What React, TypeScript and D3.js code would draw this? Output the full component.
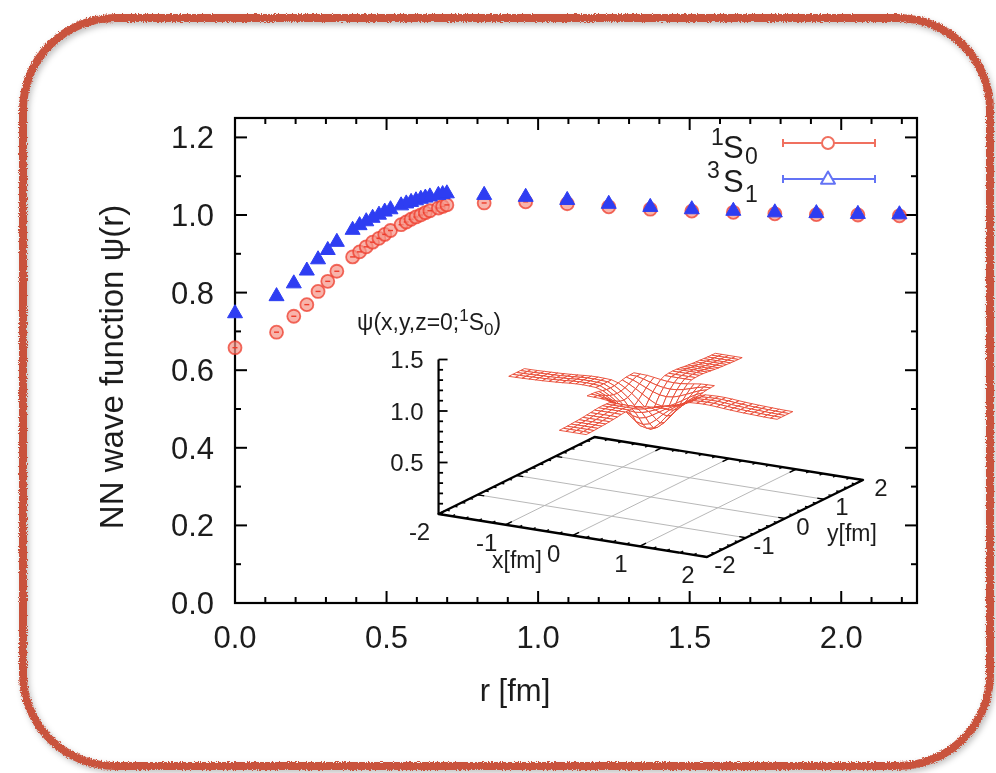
import React from 'react';
import * as d3 from 'd3';

// ---- data ----
const rValues = [0, 0.137, 0.194, 0.237, 0.274, 0.306, 0.336, 0.388, 0.411, 0.433, 0.454, 0.475, 0.494, 0.513, 0.548, 0.565, 0.581, 0.597, 0.613, 0.628, 0.643, 0.671, 0.685, 0.699, 0.822, 0.959, 1.096, 1.233, 1.37, 1.507, 1.644, 1.781, 1.918, 2.055, 2.192];
const psi1S0 = [0.658, 0.698, 0.739, 0.769, 0.803, 0.829, 0.855, 0.892, 0.905, 0.918, 0.93, 0.94, 0.95, 0.96, 0.975, 0.982, 0.989, 0.995, 1.0, 1.006, 1.011, 1.018, 1.022, 1.026, 1.031, 1.034, 1.029, 1.021, 1.015, 1.01, 1.007, 1.003, 1.001, 1.0, 0.998];
const psi3S1 = [0.748, 0.792, 0.825, 0.858, 0.887, 0.911, 0.932, 0.963, 0.975, 0.985, 0.994, 1.002, 1.01, 1.016, 1.026, 1.031, 1.035, 1.039, 1.043, 1.046, 1.049, 1.053, 1.055, 1.057, 1.053, 1.048, 1.04, 1.03, 1.022, 1.016, 1.012, 1.008, 1.006, 1.004, 1.003];
const xTicks = [0, 0.5, 1.0, 1.5, 2.0];
const yTicks = [0, 0.2, 0.4, 0.6, 0.8, 1.0, 1.2];
const insetZTicks = [0.5, 1.0, 1.5];
const insetXTicks = [-2, -1, 0, 1, 2];
const insetYTicks = [-2, -1, 0, 1, 2];

const FONT = '"Liberation Sans", Arial, Helvetica, sans-serif';
const RED = '#ee3b2b';
const BLUE = '#2e3ef2';

export default function App() {
  const W = 996, H = 773;
  const L = 235, R = 917, T = 118, B = 603;
  const x = d3.scaleLinear().domain([0, 2.25]).range([L, R]);
  const y = d3.scaleLinear().domain([0, 1.25]).range([B, T]);

  const xMinor = d3.range(0, 2.2501, 0.1);
  const yMinor = d3.range(0, 1.2501, 0.1);
  const isMajor = (v: number, arr: number[]) => arr.some(a => Math.abs(a - v) < 1e-6);

  // ---- inset projection ----
  const O = [650.75, 497];
  const ex = [67.1, 10.75];
  const ey = [39, -19.25];
  const ez = -103;
  const P = (px: number, py: number, pz: number) => [O[0] + px * ex[0] + py * ey[0], O[1] + px * ex[1] + py * ey[1] + pz * ez];
  const pstr = (pts: number[][]) => pts.map(p => p[0].toFixed(2) + ',' + p[1].toFixed(2)).join(' ');

  const surf = d3.scaleLinear().domain(rValues).range(psi1S0).clamp(true);
  const h = 0.1;
  const cells: { pts: number[][]; key: number }[] = [];
  for (let i = 0; i < 40; i++) {
    for (let j = 0; j < 40; j++) {
      const x0 = -2 + i * h, y0 = -2 + j * h;
      const cx = x0 + h / 2, cy = y0 + h / 2;
      const inside = Math.abs(cy) < 0.2 || Math.abs(cx) < 0.2 || (Math.abs(cx) < 0.6 && Math.abs(cy) < 0.6);
      if (!inside) continue;
      const z = (a: number, b: number) => surf(Math.sqrt(a * a + b * b));
      const corners = [[x0, y0], [x0 + h, y0], [x0 + h, y0 + h], [x0, y0 + h]];
      const pts = corners.map(c => P(c[0], c[1], z(c[0], c[1])));
      cells.push({ pts, key: 10.75 * cx - 19.25 * cy });
    }
  }
  cells.sort((a, b) => a.key - b.key);

  const floor = [P(-2, -2, 0), P(2, -2, 0), P(2, 2, 0), P(-2, 2, 0)];
  const edgeTicks: JSX.Element[] = [];
  const fine = d3.range(-2, 2.001, 0.2);
  fine.forEach((v, k) => {
    const major = Math.abs(v - Math.round(v)) < 1e-6;
    const lx = major ? 0.16 : 0.08;
    const ly = major ? 0.1 : 0.05;
    [[-2, 1], [2, -1]].forEach(([yy, dir], m) => {
      const a = P(v, yy, 0), b = P(v, yy + dir * lx, 0);
      edgeTicks.push(<line key={`tx${k}-${m}`} x1={a[0]} y1={a[1]} x2={b[0]} y2={b[1]} stroke="#000" strokeWidth={1.4} />);
    });
    [[2, -1], [-2, 1]].forEach(([xx, dir], m) => {
      const a = P(xx, v, 0), b = P(xx + dir * ly, v, 0);
      edgeTicks.push(<line key={`ty${k}-${m}`} x1={a[0]} y1={a[1]} x2={b[0]} y2={b[1]} stroke="#000" strokeWidth={1.4} />);
    });
  });

  const zAxisBase = P(-2, -2, 0);
  const zMinor = d3.range(0, 1.5001, 0.1);

  const tri = (cx: number, cy: number, s: number) => {
    const hgt = s * 0.87;
    return `${cx},${cy - hgt * 0.62} ${cx + s / 2},${cy + hgt * 0.38} ${cx - s / 2},${cy + hgt * 0.38}`;
  };

  const TXT = '#1e1e1e';

  return (
    <svg width={W} height={H} viewBox={`0 0 ${W} ${H}`} style={{ position: 'absolute', left: 0, top: 0, background: '#fff' }} fontFamily={FONT}>
      <defs>
        <filter id="rough" x="-5%" y="-5%" width="110%" height="110%">
          <feTurbulence type="fractalNoise" baseFrequency="0.8" numOctaves="2" result="noise" seed="3" />
          <feDisplacementMap in="SourceGraphic" in2="noise" scale="4" xChannelSelector="R" yChannelSelector="G" />
        </filter>
        <filter id="shadow" x="-5%" y="-5%" width="110%" height="110%">
          <feGaussianBlur stdDeviation="3" />
        </filter>
        <filter id="soft" x="-2%" y="-2%" width="104%" height="104%">
          <feGaussianBlur stdDeviation="0.45" />
        </filter>
      </defs>
      <rect width={W} height={H} fill="#fff" />
      {/* frame border */}
      <rect x={25} y={21} width={967} height={748} rx={92} fill="none" stroke="#000" strokeOpacity={0.28} strokeWidth={7} filter="url(#shadow)" />
      <rect x={23} y={18} width={967} height={748} rx={92} fill="none" stroke="#c9533d" strokeWidth={8} filter="url(#rough)" />

      <g filter="url(#soft)">
        {/* main plot frame and ticks */}
        <rect x={L} y={T} width={R - L} height={B - T} fill="none" stroke="#000" strokeWidth={2.2} />
        {xMinor.map((v, i) => {
          const len = isMajor(v, xTicks) ? 12 : 6;
          return (
            <g key={'xt' + i}>
              <line x1={x(v)} x2={x(v)} y1={B} y2={B - len} stroke="#000" strokeWidth={2} />
              <line x1={x(v)} x2={x(v)} y1={T} y2={T + len} stroke="#000" strokeWidth={2} />
            </g>
          );
        })}
        {yMinor.map((v, i) => {
          const len = isMajor(v, yTicks) ? 12 : 6;
          return (
            <g key={'yt' + i}>
              <line x1={L} x2={L + len} y1={y(v)} y2={y(v)} stroke="#000" strokeWidth={2} />
              <line x1={R} x2={R - len} y1={y(v)} y2={y(v)} stroke="#000" strokeWidth={2} />
            </g>
          );
        })}
        {xTicks.map(v => (
          <text key={'xl' + v} x={x(v)} y={648} fontSize={31} textAnchor="middle" fill={TXT}>{v.toFixed(1)}</text>
        ))}
        {yTicks.map(v => (
          <text key={'yl' + v} x={L - 21} y={y(v) + 11} fontSize={31} textAnchor="end" fill={TXT}>{v.toFixed(1)}</text>
        ))}
        <text x={515} y={701} fontSize={31} textAnchor="middle" fill={TXT}>r [fm]</text>
        <text transform="translate(123,367) rotate(-90)" fontSize={33} textAnchor="middle" fill={TXT}>NN wave function ψ(r)</text>

        {/* inset */}
        <text x={357} y={330} fontSize={23} fill={TXT}>ψ(x,y,z=0;<tspan fontSize={17} dy={-9}>1</tspan><tspan dy={9}>S</tspan><tspan fontSize={17} dy={5}>0</tspan><tspan dy={-5}>)</tspan></text>
        <polygon points={pstr(floor)} fill="#fff" stroke="none" />
        {[-1, 0, 1].map(v => {
          const a = P(v, -2, 0), b = P(v, 2, 0), c = P(-2, v, 0), d = P(2, v, 0);
          return (
            <g key={'g' + v}>
              <line x1={a[0]} y1={a[1]} x2={b[0]} y2={b[1]} stroke="#b8b8b8" strokeWidth={1} />
              <line x1={c[0]} y1={c[1]} x2={d[0]} y2={d[1]} stroke="#b8b8b8" strokeWidth={1} />
            </g>
          );
        })}
        <polygon points={pstr(floor)} fill="none" stroke="#000" strokeWidth={2.4} strokeLinejoin="round" />
        {edgeTicks}
        <line x1={zAxisBase[0]} y1={zAxisBase[1]} x2={zAxisBase[0]} y2={P(-2, -2, 1.5)[1]} stroke="#000" strokeWidth={2.2} />
        {zMinor.map((v, i) => {
          const p = P(-2, -2, v);
          const len = isMajor(v, insetZTicks) ? 9 : 4.5;
          return <line key={'zt' + i} x1={p[0]} x2={p[0] + len} y1={p[1]} y2={p[1]} stroke="#000" strokeWidth={1.8} />;
        })}
        {insetZTicks.map(v => {
          const p = P(-2, -2, v);
          return <text key={'zl' + v} x={p[0] - 15} y={p[1] + 8.5} fontSize={24} textAnchor="end" fill={TXT}>{v.toFixed(1)}</text>;
        })}
        {insetXTicks.map(v => {
          const p = P(v, -2, 0);
          return <text key={'ixl' + v} x={p[0] - 19} y={p[1] + 26} fontSize={24} textAnchor="middle" fill={TXT}>{v}</text>;
        })}
        {insetYTicks.map(v => {
          const p = P(2, v, 0);
          return <text key={'iyl' + v} x={p[0] + 18} y={p[1] + 16} fontSize={24} textAnchor="middle" fill={TXT}>{v}</text>;
        })}
        <text x={517} y={568} fontSize={23} textAnchor="middle" fill={TXT}>x[fm]</text>
        <text x={852} y={541} fontSize={23} textAnchor="middle" fill={TXT}>y[fm]</text>
        {cells.map((c, i) => (
          <polygon key={'c' + i} points={pstr(c.pts)} fill="#fff" stroke="#e8452f" strokeWidth={0.9} strokeLinejoin="round" />
        ))}

        {/* data: 1S0 circles */}
        {rValues.map((r, i) => (
          <g key={'r' + i}>
            <circle cx={x(r)} cy={y(psi1S0[i])} r={6.5} fill="#f59488" fillOpacity={0.7} stroke={RED} strokeOpacity={0.75} strokeWidth={1.8} />
            <line x1={x(r) - 2.5} x2={x(r) + 2.5} y1={y(psi1S0[i])} y2={y(psi1S0[i])} stroke={RED} strokeWidth={1.4} />
          </g>
        ))}
        {/* data: 3S1 triangles */}
        {rValues.map((r, i) => (
          <polygon key={'b' + i} points={tri(x(r), y(psi3S1[i]), 15)} fill={BLUE} stroke={BLUE} strokeWidth={1} strokeLinejoin="round" />
        ))}

        {/* legend */}
        <text x={711} y={145} fontSize={23} fill={TXT}>1</text>
        <text x={723} y={158} fontSize={31} fill={TXT}>S</text>
        <text x={745} y={164} fontSize={23} fill={TXT}>0</text>
        <text x={707} y={178} fontSize={23} fill={TXT}>3</text>
        <text x={723} y={192} fontSize={31} fill={TXT}>S</text>
        <text x={745} y={202} fontSize={23} fill={TXT}>1</text>
        <g stroke="#f0705f" strokeWidth={2}>
          <line x1={783} x2={875} y1={143} y2={143} />
          <line x1={783} x2={783} y1={139} y2={147} />
          <line x1={875} x2={875} y1={139} y2={147} />
        </g>
        <circle cx={828} cy={143} r={6} fill="#fff" stroke="#f0705f" strokeWidth={2} />
        <g stroke="#6373f5" strokeWidth={2}>
          <line x1={783} x2={875} y1={179} y2={179} />
          <line x1={783} x2={783} y1={175} y2={183} />
          <line x1={875} x2={875} y1={175} y2={183} />
        </g>
        <polygon points={tri(828, 179, 14)} fill="#fff" stroke="#6373f5" strokeWidth={2} strokeLinejoin="round" />
      </g>
    </svg>
  );
}
